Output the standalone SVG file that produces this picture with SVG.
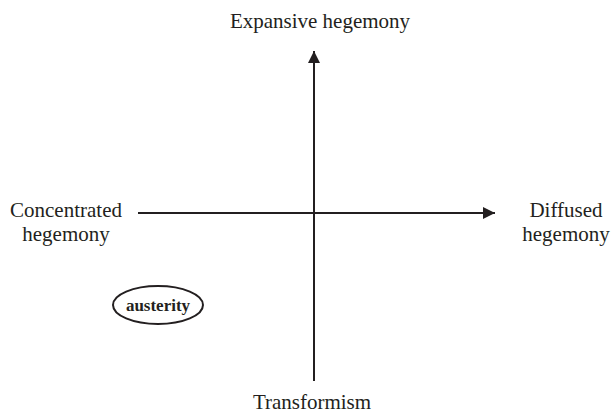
<svg xmlns="http://www.w3.org/2000/svg" width="614" height="414" viewBox="0 0 614 414">
<style>
.t{font-family:"Liberation Serif","Times New Roman",serif;font-size:21px;fill:#231f20;text-anchor:middle}
.b{font-weight:bold;font-size:17px}
.ln{stroke:#231f20;stroke-width:2;fill:none}
</style>
<defs>
<marker id="ah" markerWidth="12" markerHeight="12" refX="12" refY="6" orient="auto" markerUnits="userSpaceOnUse">
<path d="M0,0 L12,6 L0,12 Z" fill="#231f20"/>
</marker>
</defs>
<g id="connectors">
<line class="ln" x1="314" y1="381" x2="314" y2="51" marker-end="url(#ah)"/>
<line class="ln" x1="138" y1="213" x2="495" y2="213" marker-end="url(#ah)"/>
</g>
<g id="top"><text class="t" x="320" y="28">Expansive hegemony</text></g>
<g id="bottom"><text class="t" x="312" y="409">Transformism</text></g>
<g id="left"><text class="t" x="66" y="217">Concentrated</text><text class="t" x="66" y="241">hegemony</text></g>
<g id="right"><text class="t" x="566" y="217">Diffused</text><text class="t" x="566" y="241">hegemony</text></g>
<g id="austerity"><ellipse class="ln" cx="158" cy="305" rx="45" ry="19"/><text class="t b" x="158" y="311">austerity</text></g>
</svg>
